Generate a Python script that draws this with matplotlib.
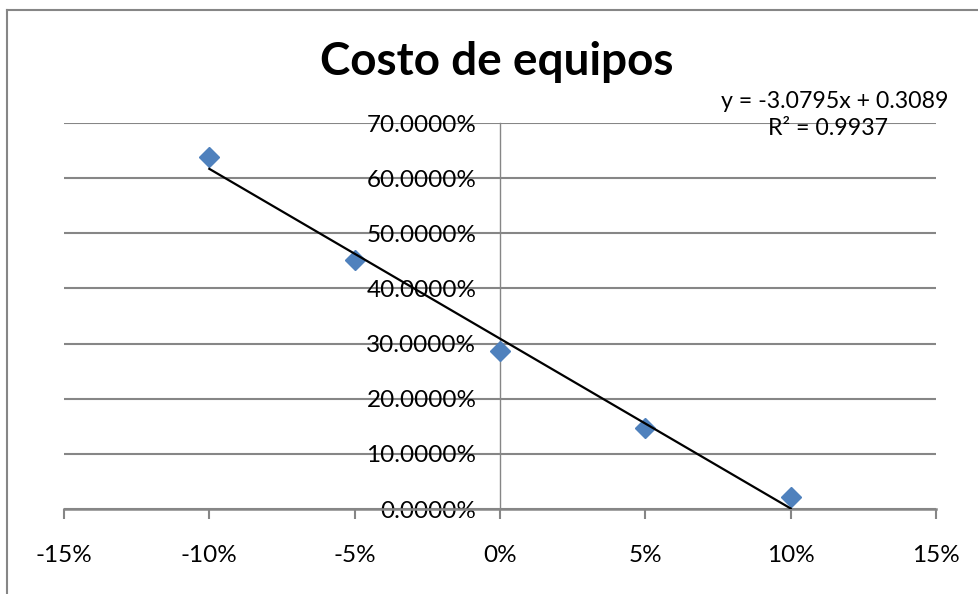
import matplotlib
matplotlib.use("Agg")
import matplotlib.pyplot as plt
from matplotlib.lines import Line2D

# Data
variation = [-0.10, -0.05, 0.00, 0.05, 0.10]
cost_change = [0.639, 0.451, 0.287, 0.147, 0.022]
trend_slope = -3.0795
trend_intercept = 0.3089
trend_r2 = 0.9937

x_ticks = [-0.15, -0.10, -0.05, 0.00, 0.05, 0.10, 0.15]
x_tick_labels = ["-15%", "-10%", "-5%", "0%", "5%", "10%", "15%"]
y_ticks = [0.0, 0.1, 0.2, 0.3, 0.4, 0.5, 0.6, 0.7]
y_tick_labels = ["0.0000%", "10.0000%", "20.0000%", "30.0000%",
                 "40.0000%", "50.0000%", "60.0000%", "70.0000%"]

title = "Costo de equipos"

W, H = 979, 594
fig = plt.figure(figsize=(W / 100, H / 100), dpi=100)
plt.rcParams['font.family'] = ['Lato', 'DejaVu Sans']

grey = "#868686"

# chart area border (left and top edges)
fig.add_artist(Line2D([7 / W, 7 / W], [0, 1 - 10 / H], transform=fig.transFigure,
                      color=grey, lw=1.5))
fig.add_artist(Line2D([7 / W, 1], [1 - 10 / H, 1 - 10 / H], transform=fig.transFigure,
                      color=grey, lw=1.5))

left, right = 64 / W, 936 / W
top, bottom = 1 - 123 / H, 1 - 509 / H
ax = fig.add_axes([left, bottom, right - left, top - bottom])

ax.set_xlim(-0.15, 0.15)
ax.set_ylim(0, 0.7)

for s in ("top", "right"):
    ax.spines[s].set_visible(False)
ax.spines["left"].set_position(("data", 0))
ax.spines["left"].set_color(grey)
ax.spines["left"].set_linewidth(1.0)
ax.spines["bottom"].set_color(grey)
ax.spines["bottom"].set_linewidth(1.8)

ax.set_xticks(x_ticks)
ax.set_xticklabels(x_tick_labels)
ax.set_yticks(y_ticks)
ax.set_yticklabels(y_tick_labels)

ax.tick_params(axis="x", direction="out", length=7, width=1.5, color=grey,
               pad=19, labelsize=17.5, labelcolor="black")
ax.tick_params(axis="y", length=0, pad=17, labelsize=17.5, labelcolor="black")

ax.grid(axis="y", color=grey, lw=1.5)
ax.set_axisbelow(True)

# data points
ax.plot(variation, cost_change, linestyle="none", marker="D", markersize=10.5,
        color="#4F81BD", markeredgecolor="#4F81BD", zorder=3, clip_on=False)

# linear trendline
x0, x1 = min(variation), max(variation)
ax.plot([x0, x1], [trend_slope * x0 + trend_intercept, trend_slope * x1 + trend_intercept],
        color="black", lw=1.6, zorder=4)

fig.text(497 / W, 1 - 75 / H, title, ha="center", va="baseline",
         fontsize=33, fontweight="bold")

fig.text(835 / W, 1 - 108 / H, f"y = {trend_slope:.4f}x + {trend_intercept:.4f}",
         ha="center", va="baseline", fontsize=16.7)
fig.text(828 / W, 1 - 135 / H, f"R² = {trend_r2:.4f}",
         ha="center", va="baseline", fontsize=16.7)

fig.savefig("out.png", dpi=100)
